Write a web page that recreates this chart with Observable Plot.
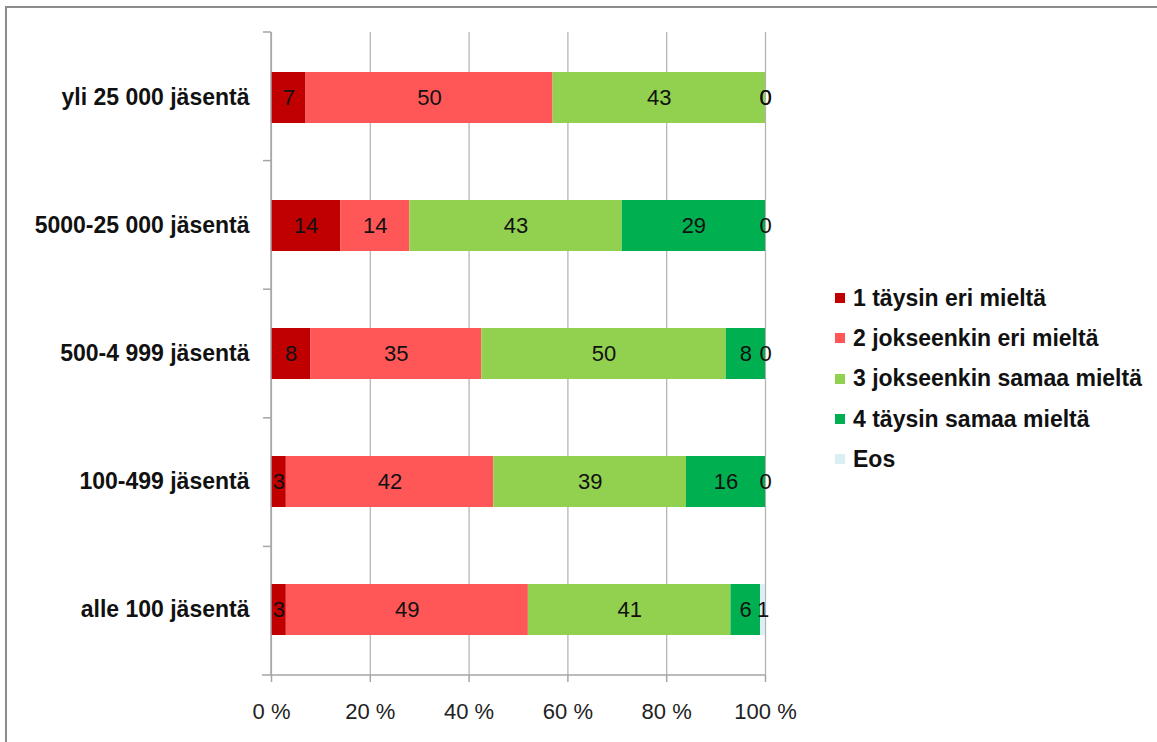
<!DOCTYPE html>
<html><head><meta charset="utf-8">
<script src="https://cdn.jsdelivr.net/npm/d3@7"></script>
<script src="https://cdn.jsdelivr.net/npm/@observablehq/plot@0.6"></script>
<style>
body{margin:0;background:#fff;font-family:"Liberation Sans",Arial,sans-serif;}
#wrap{position:relative;width:1157px;height:742px;overflow:hidden;background:#fff;}
#chart{position:absolute;left:0;top:0;}
#frame{position:absolute;left:5px;top:6px;width:1300px;height:900px;border-left:2px solid #8c8c8c;border-top:2px solid #8c8c8c;}
#legend{position:absolute;left:835px;top:278px;}
.item{display:flex;align-items:center;height:40.3px;font-weight:bold;font-size:23px;color:#111;white-space:nowrap;}
.sw{width:10px;height:10px;margin-right:8px;flex:none;}
</style></head><body>
<div id="wrap"><div id="chart"></div><div id="frame"></div><div id="legend"></div></div>
<script>
const categories = ["yli 25 000 jäsentä","5000-25 000 jäsentä","500-4 999 jäsentä","100-499 jäsentä","alle 100 jäsentä"];
const series = ["1 täysin eri mieltä","2 jokseenkin eri mieltä","3 jokseenkin samaa mieltä","4 täysin samaa mieltä","Eos"];
const colors = ["#C00000","#FF5757","#92D050","#00B050","#DAEEF3"];
const s1 = [7,14,8,3,3];
const s2 = [50,14,35,42,49];
const s3 = [43,43,50,39,41];
const s4 = [0,29,8,16,6];
const s5 = [0,0,0,0,1];
const xTicks = [0,0.2,0.4,0.6,0.8,1];

const seriesValues = [s1,s2,s3,s4,s5];
const data = [];
categories.forEach((c,i)=>series.forEach((s,j)=>data.push({cat:c, series:s, value:seriesValues[j][i]})));

const stackOpts = {x:"value", y:"cat", z:"series", order: series, offset:"normalize"};

const decor = (index, scales, values, dim) => {
  const g = d3.create("svg:g");
  const x0 = scales.x(0), x1 = scales.x(1);
  const top = dim.marginTop, bottom = dim.height - dim.marginBottom;
  const step = (bottom - top) / categories.length;
  g.append("line").attr("x1",x0).attr("x2",x0).attr("y1",top).attr("y2",bottom).attr("stroke","#a6a6a6").attr("stroke-width",1.5);
  for (let i=0;i<categories.length;i++){
    const y = top + i*step;
    g.append("line").attr("x1",x0-8).attr("x2",x0).attr("y1",y).attr("y2",y).attr("stroke","#a6a6a6").attr("stroke-width",1.5);
  }
  g.append("line").attr("x1",x0-9).attr("x2",x1).attr("y1",bottom).attr("y2",bottom).attr("stroke","#a6a6a6").attr("stroke-width",1.5);
  return g.node();
};

const chart = Plot.plot({
  width: 1157, height: 742,
  marginLeft: 271, marginRight: 392, marginTop: 32, marginBottom: 67,
  style: {background:"transparent", fontFamily:"'Liberation Sans', Arial, sans-serif", overflow:"visible"},
  x: {domain:[0,1]},
  y: {domain: categories, paddingInner: 0.6, paddingOuter: 0.3},
  color: {domain: series, range: colors},
  marks: [
    Plot.gridX(xTicks, {stroke:"#b0b0b0", strokeOpacity:1, strokeWidth:1.2}),
    Plot.barX(data, Plot.stackX({...stackOpts, fill:"series", inset:0})),
    Plot.text(data, Plot.stackX({...stackOpts, text:"value", fontSize:22, fill:"#111"})),
    decor,
    Plot.axisX(xTicks, {tickSize:7, tickPadding:21, fontSize:22, fill:"#222", stroke:"#a6a6a6", strokeWidth:1.5, tickFormat: d => Math.round(d*100)+" %", label:null}),
    Plot.axisY({tickSize:0, tickPadding:22, fontSize:23, fontWeight:"bold", fill:"#111", label:null})
  ]
});
document.getElementById("chart").appendChild(chart);

const leg = document.getElementById("legend");
series.forEach((s,i)=>{
  const d = document.createElement("div"); d.className="item";
  const sw = document.createElement("span"); sw.className="sw"; sw.style.background = colors[i];
  const t = document.createElement("span"); t.textContent = s;
  d.appendChild(sw); d.appendChild(t); leg.appendChild(d);
});
</script></body></html>
